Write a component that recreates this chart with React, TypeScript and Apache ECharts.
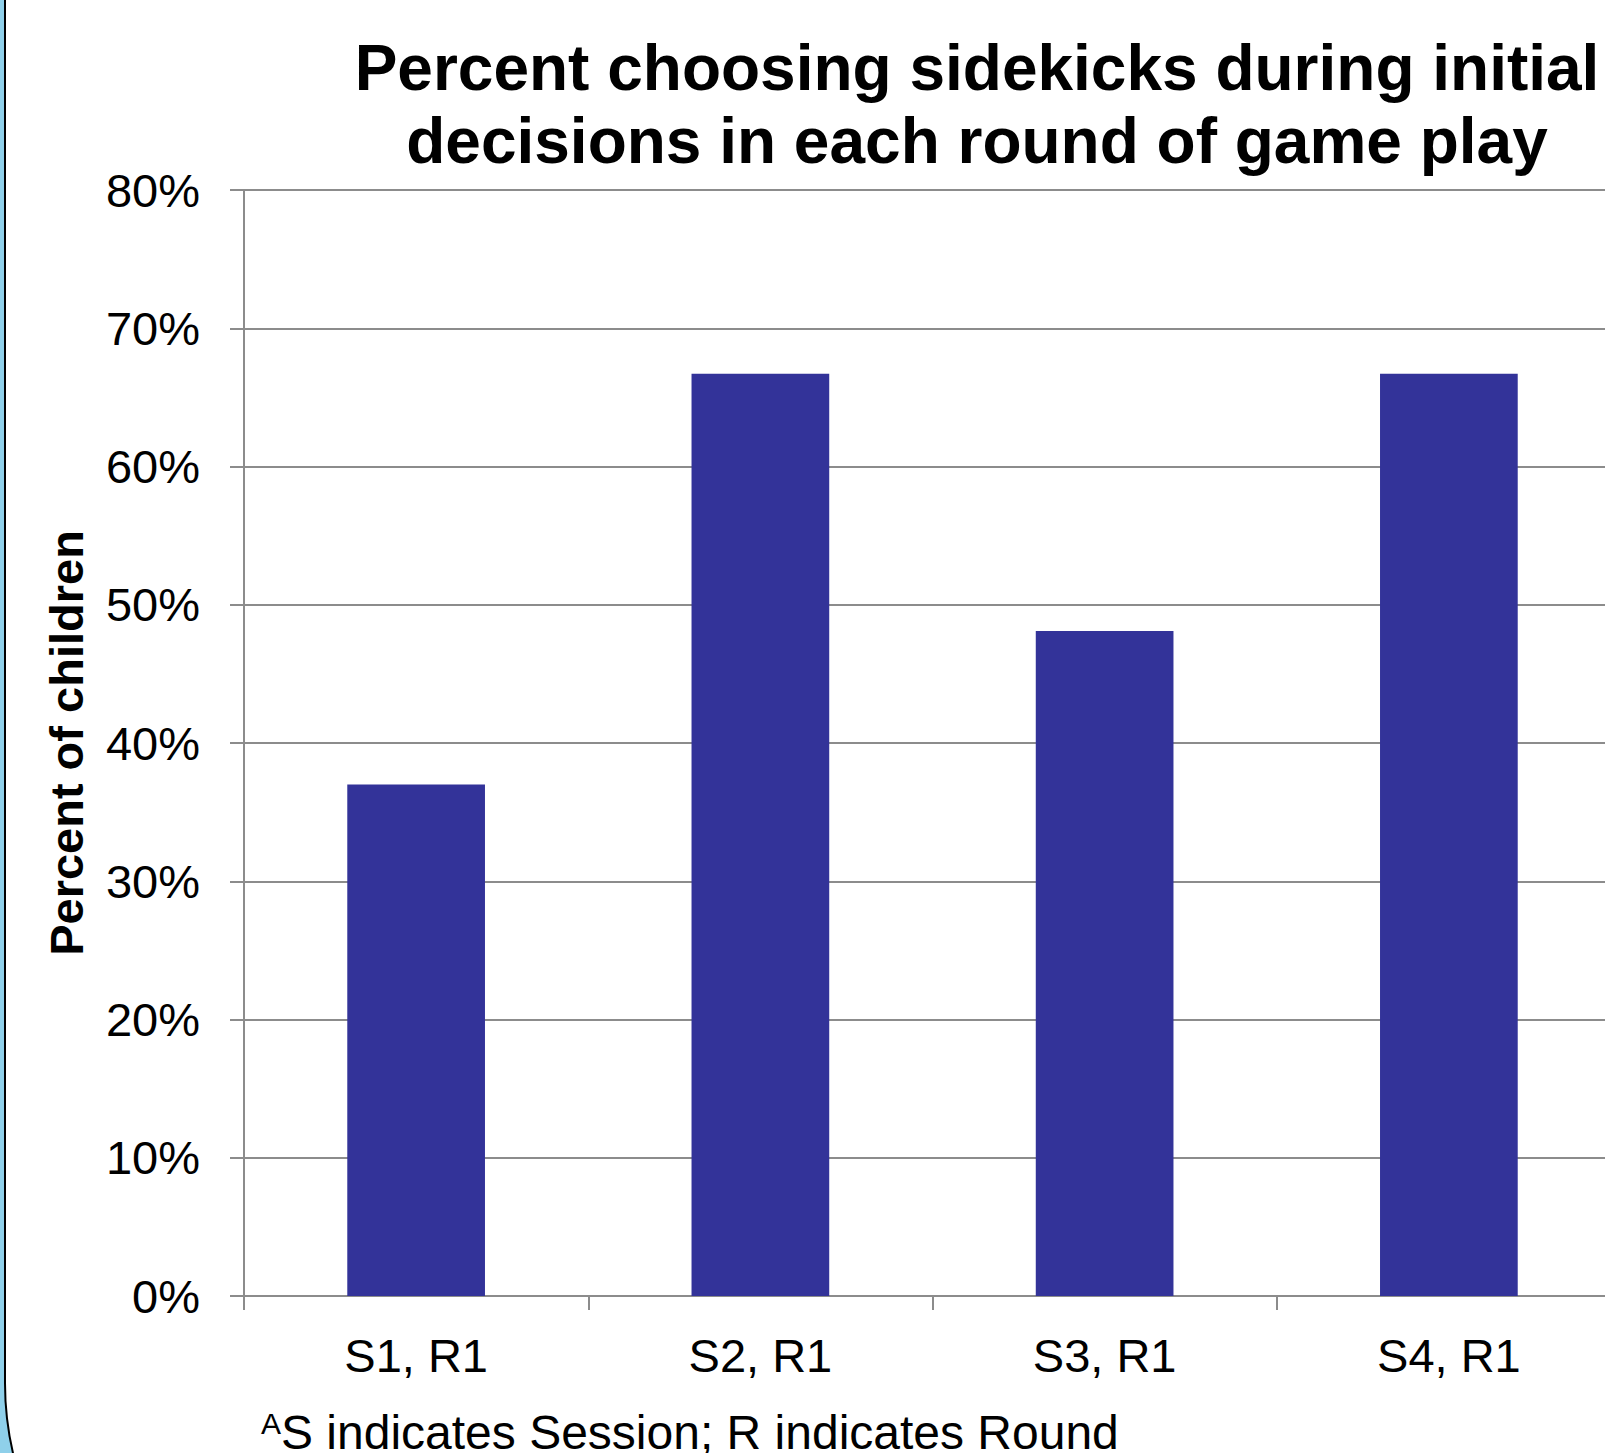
import React, { useEffect, useRef } from "react";
import * as echarts from "echarts";

const categories = ["S1, R1", "S2, R1", "S3, R1", "S4, R1"];
const percentChoosingSidekicks = [37.0, 66.7, 48.1, 66.7];
const yTicks = { min: 0, max: 80, interval: 10 };
const titleLines = [
  "Percent choosing sidekicks during initial",
  "decisions in each round of game play",
];
const yAxisName = "Percent of children";
const footnoteSup = "A";
const footnoteText = "S indicates Session; R indicates Round";

const FONT = "'Liberation Sans', Arial, sans-serif";

export default function App() {
  const ref = useRef<HTMLDivElement>(null);

  useEffect(() => {
    if (!ref.current) return;
    const chart = echarts.init(ref.current, undefined, { renderer: "svg" });
    const gray = "#8c8c8c";
    chart.setOption({
      animation: false,
      backgroundColor: "#8fd0ea",
      graphic: [
        {
          type: "rect",
          z: -100,
          silent: true,
          shape: { x: 5, y: -20, width: 1750, height: 1713, r: [0, 0, 0, 310] },
          style: { fill: "#ffffff", stroke: "#000000", lineWidth: 2 },
        },
        {
          type: "text",
          z: 10,
          x: 977,
          y: 90 - 0.3465 * 64,
          style: {
            text: titleLines[0],
            font: `bold 64px ${FONT}`,
            fill: "#000",
            textAlign: "center",
            textVerticalAlign: "middle",
          },
        },
        {
          type: "text",
          z: 10,
          x: 977,
          y: 163 - 0.3465 * 64,
          style: {
            text: titleLines[1],
            font: `bold 64px ${FONT}`,
            fill: "#000",
            textAlign: "center",
            textVerticalAlign: "middle",
          },
        },
        {
          type: "text",
          z: 10,
          x: 261,
          y: 1434 - 0.3465 * 30,
          style: {
            text: footnoteSup,
            font: `30px ${FONT}`,
            fill: "#000",
            textAlign: "left",
            textVerticalAlign: "middle",
          },
        },
        {
          type: "text",
          z: 10,
          x: 281,
          y: 1432,
          style: {
            text: footnoteText,
            font: `48px ${FONT}`,
            fill: "#000",
            textAlign: "left",
            textVerticalAlign: "middle",
          },
        },
      ],
      grid: { left: 244, top: 190, bottom: 157, right: 4, containLabel: false },
      xAxis: {
        type: "category",
        data: categories,
        axisLine: { show: true, lineStyle: { color: gray, width: 2 } },
        axisTick: { show: true, length: 14, lineStyle: { color: gray, width: 2 } },
        axisLabel: {
          margin: 36,
          fontSize: 47,
          fontFamily: FONT,
          color: "#000",
        },
      },
      yAxis: {
        type: "value",
        min: yTicks.min,
        max: yTicks.max,
        interval: yTicks.interval,
        name: yAxisName,
        nameLocation: "middle",
        nameRotate: 90,
        nameGap: 154,
        nameTextStyle: {
          fontSize: 47,
          fontWeight: "bold",
          fontFamily: FONT,
          color: "#000",
        },
        axisLine: { show: true, lineStyle: { color: gray, width: 2 } },
        axisTick: { show: true, length: 14, lineStyle: { color: gray, width: 2 } },
        splitLine: { show: true, lineStyle: { color: gray, width: 2 } },
        axisLabel: {
          margin: 44,
          fontSize: 47,
          fontFamily: FONT,
          color: "#000",
          formatter: "{value}%",
        },
      },
      series: [
        {
          type: "bar",
          data: percentChoosingSidekicks,
          barWidth: "40%",
          itemStyle: { color: "#333399" },
        },
      ],
    });
    return () => chart.dispose();
  }, []);

  return (
    <div
      style={{
        position: "fixed",
        left: 0,
        top: 0,
        width: 1605,
        height: 1453,
        overflow: "hidden",
      }}
    >
      <div ref={ref} style={{ width: 1625, height: 1453 }} />
    </div>
  );
}
